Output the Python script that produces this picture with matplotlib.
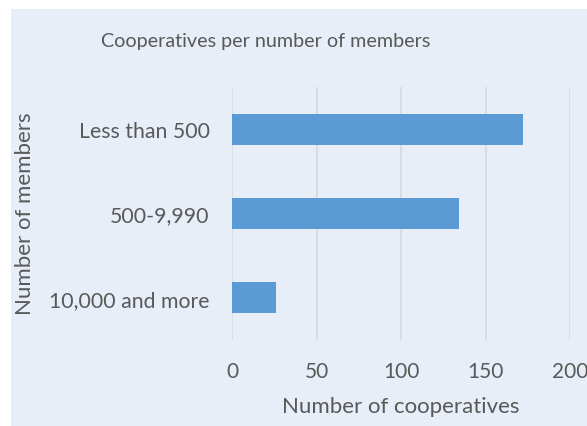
import matplotlib
matplotlib.use('Agg')
import matplotlib.pyplot as plt
from matplotlib.patches import Rectangle

# cooperatives grouped by membership size
categories = ['Less than 500', '500-9,990', '10,000 and more']
counts = [172, 134, 26]
xticks = [0, 50, 100, 150, 200]

W, H = 587, 427
bg = '#E7EEF8'
txt = '#595959'
bar_color = '#5B9BD5'
grid_color = '#D9D9D9'

plt.rcParams['font.family'] = ['Lato', 'DejaVu Sans']

fig = plt.figure(figsize=(W / 100, H / 100), dpi=100)
fig.patch.set_facecolor('white')
fig.patches.append(Rectangle((11 / W, 0), 1, (H - 10) / H, transform=fig.transFigure,
                             facecolor=bg, edgecolor='none', zorder=-10))

ax = fig.add_axes([232 / W, (H - 341) / H, (570.3 - 232) / W, (341 - 88) / H])
ax.set_facecolor('none')

ypos = list(range(len(categories)))
ax.barh(ypos, counts, height=0.37, color=bar_color, zorder=3)
ax.set_ylim(len(categories) - 0.5, -0.5)
ax.set_yticks(ypos)
ax.set_yticklabels(categories)
ax.set_xlim(0, 200)
ax.set_xticks(xticks)
ax.set_xticklabels([str(v) for v in xticks])

ax.grid(axis='x', color=grid_color, linewidth=1.2, zorder=1)
for s in ax.spines.values():
    s.set_visible(False)
ax.tick_params(axis='y', length=0, pad=16, labelsize=15.3, colors=txt)
ax.tick_params(axis='x', length=0, pad=15, labelsize=15, colors=txt)

ax.set_xlabel('Number of cooperatives', fontsize=16, color=txt, labelpad=11)
fig.text(25 / W, 1 - 214 / H, 'Number of members', rotation=90, fontsize=16,
         color=txt, ha='center', va='center')
fig.text(266 / W, 1 - 42 / H, 'Cooperatives per number of members', fontsize=14.2,
         color=txt, ha='center', va='center')

fig.savefig('out.png', dpi=100, facecolor=fig.get_facecolor())
